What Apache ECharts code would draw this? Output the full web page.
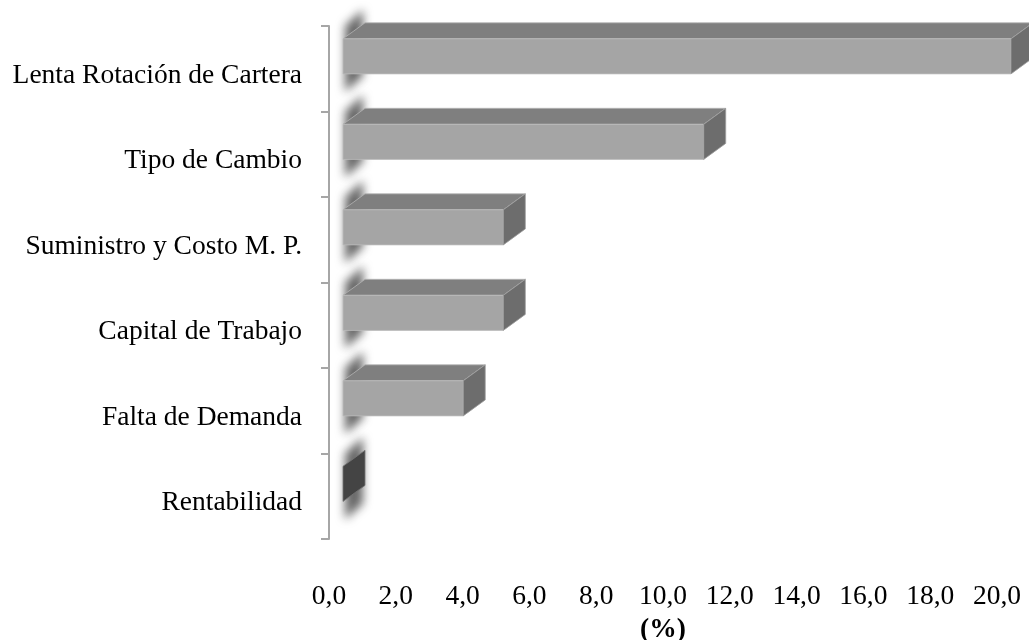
<!DOCTYPE html>
<html>
<head>
<meta charset="utf-8">
<script src="https://cdn.jsdelivr.net/npm/echarts@6/dist/echarts.min.js"></script>
<style>
  html, body { margin: 0; padding: 0; background: #fff; }
  #chart { width: 1029px; height: 640px; }
</style>
</head>
<body>
<div id="chart"></div>
<script>
// Causes reported, top to bottom
const categories = [
  'Lenta Rotación de Cartera',
  'Tipo de Cambio',
  'Suministro y Costo M. P.',
  'Capital de Trabajo',
  'Falta de Demanda',
  'Rentabilidad'
];
// Share of responses (%)
const values = [20.0, 10.8, 4.8, 4.8, 3.6, 0.0];
// Value axis tick labels (decimal comma)
const tickLabels = ['0,0', '2,0', '4,0', '6,0', '8,0', '10,0', '12,0', '14,0', '16,0', '18,0', '20,0'];

const FONT = '"Liberation Serif", "Times New Roman", serif';

// 3D box projection
const DX = 22;     // depth offset to the right
const DY = 16;     // depth offset upwards
const SHIFT = 14;  // front plane sits behind the floor edge
const FAR = 3000;  // blurred end-cap shade is cast from off-canvas

function renderBox(params, api) {
  const i = api.value(1);
  const v = api.value(0);
  const p0 = api.coord([0, i]);
  const p1 = api.coord([v, i]);
  const bw = api.size([0, 1])[1];
  const x0 = p0[0] + SHIFT;
  const x1 = p1[0] + SHIFT;
  const yT = p0[1] - 0.35 * bw;
  const yB = p0[1] + 0.06 * bw;
  const empty = (x1 - x0) < 1;

  const children = [];
  // soft shade around the left end of the box
  children.push({
    type: 'polygon',
    shape: { points: [
      [x0 + 2 - FAR, yT - 13], [x0 + DX - 2 - FAR, yT - 13 - DY],
      [x0 + DX - 2 - FAR, yB + 18 - DY], [x0 + 2 - FAR, yB + 18]
    ] },
    style: {
      fill: '#000',
      shadowColor: 'rgba(95,95,95,0.95)',
      shadowBlur: 10,
      shadowOffsetX: FAR
    },
    silent: true
  });
  if (!empty) {
    // top face
    children.push({
      type: 'polygon',
      shape: { points: [[x0, yT], [x0 + DX, yT - DY], [x1 + DX, yT - DY], [x1, yT]] },
      style: { fill: '#7f7f7f', stroke: '#b4b4b4', lineWidth: 0.8 },
      silent: true
    });
    // front face
    children.push({
      type: 'rect',
      shape: { x: x0, y: yT, width: x1 - x0, height: yB - yT },
      style: { fill: '#a5a5a5', stroke: '#bdbdbd', lineWidth: 0.8 },
      silent: true
    });
  }
  // end face
  children.push({
    type: 'polygon',
    shape: { points: [[x1, yT], [x1 + DX, yT - DY], [x1 + DX, yB - DY], [x1, yB]] },
    style: {
      fill: empty ? '#444444' : '#6d6d6d',
      stroke: empty ? '#777777' : '#a0a0a0',
      lineWidth: 0.8
    },
    silent: true
  });
  return { type: 'group', children: children };
}

const chart = echarts.init(document.getElementById('chart'), null, { renderer: 'canvas' });
chart.setOption({
  animation: false,
  backgroundColor: '#ffffff',
  grid: {
    left: 329, right: 32, top: 26, bottom: 101,
    containLabel: false,
    outerBoundsMode: 'none'
  },
  xAxis: {
    type: 'value',
    min: 0,
    max: 20,
    interval: 2,
    axisLine: { show: false },
    axisTick: { show: false },
    splitLine: { show: false },
    axisLabel: {
      margin: 44,
      color: '#000',
      fontFamily: FONT,
      fontSize: 27.5,
      formatter: function (v) { return tickLabels[Math.round(v / 2)]; }
    },
    name: '(%)',
    nameLocation: 'middle',
    nameGap: 76,
    nameTextStyle: { color: '#000', fontFamily: FONT, fontSize: 27.5, fontWeight: 'bold' }
  },
  yAxis: {
    type: 'category',
    data: categories,
    inverse: true,
    axisLine: { show: true, lineStyle: { color: '#a6a6a6', width: 2 } },
    axisTick: { show: true, length: 8, lineStyle: { color: '#a6a6a6', width: 2 } },
    axisLabel: {
      margin: 27,
      color: '#000',
      fontFamily: FONT,
      fontSize: 27.5,
      verticalAlign: 'top',
      lineHeight: 14
    },
    splitLine: { show: false }
  },
  series: [{
    type: 'custom',
    renderItem: renderBox,
    clip: false,
    encode: { x: 0, y: 1 },
    data: values.map(function (v, i) { return [v, i]; }),
    silent: true
  }]
});
</script>
</body>
</html>
